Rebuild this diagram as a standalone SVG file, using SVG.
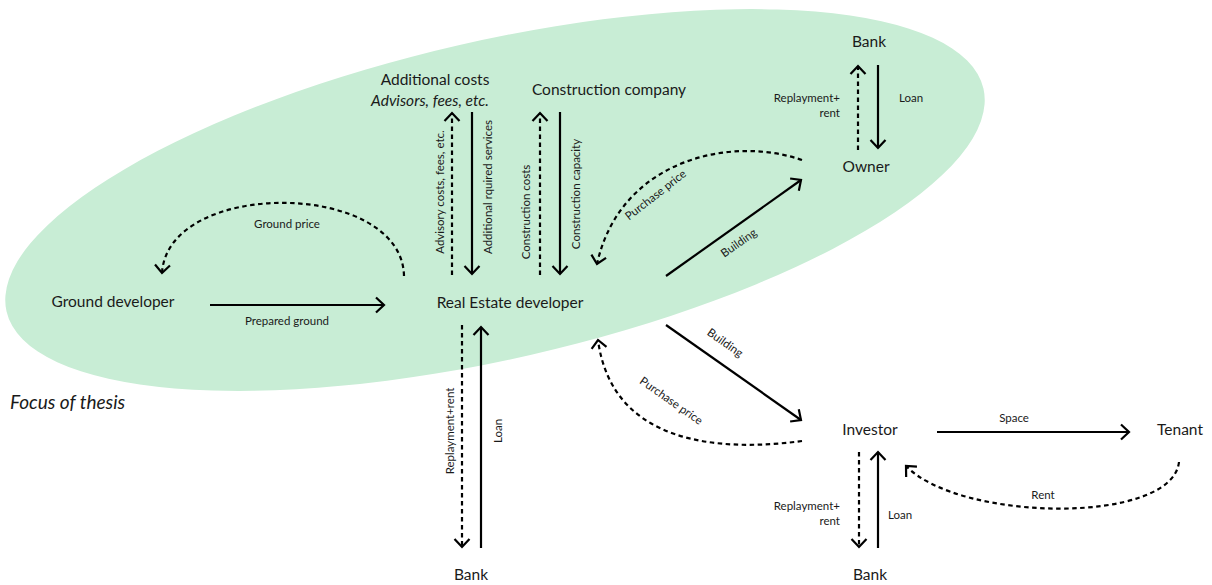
<svg xmlns="http://www.w3.org/2000/svg" width="1212" height="585" viewBox="0 0 1212 585">
  <defs>
    <marker id="chev" markerUnits="userSpaceOnUse" markerWidth="24" markerHeight="24" viewBox="-12 -12 24 24" refX="0" refY="0" orient="auto">
      <path d="M -8 -7.5 L 0 0 L -8 7.5" fill="none" stroke="#000" stroke-width="2.2" stroke-linejoin="miter"/>
    </marker>
    <style>
      .node { font-family: Lato, "Liberation Sans", sans-serif; font-size: 15.5px; fill: #1a1a1a; text-anchor: middle; }
      .lbl { font-family: Lato, "Liberation Sans", sans-serif; font-size: 11.5px; fill: #1a1a1a; text-anchor: middle; }
      .lbl.end { text-anchor: end; }
      .solid { fill: none; stroke: #000; stroke-width: 2.2; marker-end: url(#chev); }
      .dash { fill: none; stroke: #000; stroke-width: 2.2; stroke-dasharray: 4.5 3.5; marker-end: url(#chev); }
    </style>
  </defs>

  <rect width="1212" height="585" fill="#fff"/>

  <!-- focus area -->
  <ellipse cx="495" cy="200" rx="501" ry="159" transform="rotate(-12.85 495 200)" fill="#c8edd5"/>
  <text x="10" y="409" font-family="Lato, 'Liberation Sans', sans-serif" font-size="19" font-style="italic" fill="#1a1a1a">Focus of thesis</text>

  <!-- nodes -->
  <g id="bank-top"><text class="node" x="869" y="47">Bank</text></g>
  <g id="owner"><text class="node" x="866" y="172">Owner</text></g>
  <g id="additional-costs">
    <text class="node" x="435" y="85">Additional costs</text>
    <text class="node" x="430" y="106" font-style="italic">Advisors, fees, etc.</text>
  </g>
  <g id="construction-company"><text class="node" x="609" y="95">Construction company</text></g>
  <g id="ground-developer"><text class="node" x="113" y="307">Ground developer</text></g>
  <g id="real-estate-developer"><text class="node" x="510" y="308">Real Estate developer</text></g>
  <g id="investor"><text class="node" x="870" y="435">Investor</text></g>
  <g id="tenant"><text class="node" x="1180" y="435">Tenant</text></g>
  <g id="bank-left"><text class="node" x="471" y="580">Bank</text></g>
  <g id="bank-right"><text class="node" x="870" y="580">Bank</text></g>

  <!-- connectors -->
  <g id="connectors">
    <!-- ground developer / real estate developer -->
    <path class="solid" d="M210 305 L384 305"/>
    <text class="lbl" x="287" y="325">Prepared ground</text>
    <path class="dash" d="M404 276 C402 180 168 178 162 273"/>
    <text class="lbl" x="287" y="228">Ground price</text>

    <!-- additional costs -->
    <path class="dash" d="M452 275 L452 113"/>
    <text class="lbl" transform="translate(444 192) rotate(-90)">Advisory costs, fees, etc.</text>
    <path class="solid" d="M472 112 L472 274"/>
    <text class="lbl" transform="translate(492 187) rotate(-90)">Additional rquired services</text>

    <!-- construction company -->
    <path class="dash" d="M540 275 L540 113"/>
    <text class="lbl" transform="translate(530 212) rotate(-90)">Construction costs</text>
    <path class="solid" d="M560 112 L560 274"/>
    <text class="lbl" transform="translate(580 194) rotate(-90)">Construction capacity</text>

    <!-- owner -->
    <path class="dash" d="M802 160 C730 135 620 160 597 264"/>
    <text class="lbl" transform="translate(658 198) rotate(-38)">Purchase price</text>
    <path class="solid" d="M666 276 L801 180"/>
    <text class="lbl" transform="translate(741 246) rotate(-35)">Building</text>

    <!-- bank / owner -->
    <path class="dash" d="M858 150 L858 66"/>
    <path class="solid" d="M878 65 L878 148"/>
    <text class="lbl end" x="840" y="102">Replayment+</text>
    <text class="lbl end" x="840" y="117">rent</text>
    <text class="lbl" x="911" y="102">Loan</text>

    <!-- real estate developer / bank -->
    <path class="dash" d="M462 325 L462 547"/>
    <path class="solid" d="M481 548 L481 327"/>
    <text class="lbl" transform="translate(454 431) rotate(-90)">Replayment+rent</text>
    <text class="lbl" transform="translate(502 431) rotate(-90)">Loan</text>

    <!-- investor -->
    <path class="solid" d="M666 325 L801 420"/>
    <text class="lbl" transform="translate(723 346) rotate(35)">Building</text>
    <path class="dash" d="M802 441 C720 452 612 445 598 340"/>
    <text class="lbl" transform="translate(669 404) rotate(35)">Purchase price</text>

    <!-- investor / tenant -->
    <path class="solid" d="M937 432 L1129 432"/>
    <text class="lbl" x="1014" y="422">Space</text>
    <path class="dash" d="M1179 462 C1172 525 960 522 906 466"/>
    <text class="lbl" x="1043" y="499">Rent</text>

    <!-- investor / bank -->
    <path class="dash" d="M859 452 L859 547"/>
    <path class="solid" d="M878 548 L878 452"/>
    <text class="lbl end" x="840" y="510">Replayment+</text>
    <text class="lbl end" x="840" y="525">rent</text>
    <text class="lbl" x="900" y="519">Loan</text>
  </g>
</svg>
